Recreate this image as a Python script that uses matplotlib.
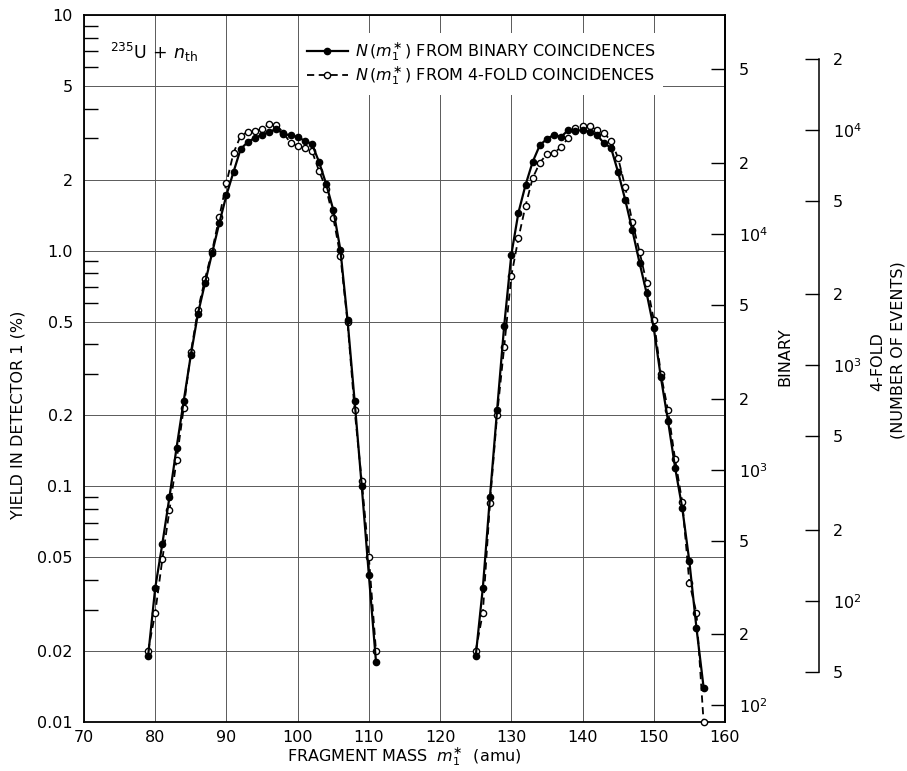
import numpy as np
import matplotlib.pyplot as plt
from matplotlib.lines import Line2D
from matplotlib.ticker import FixedLocator, NullFormatter

# fragment masses (amu) and yields in detector 1 (%)
mass_light = list(range(79, 112))
binary_light = [0.019, 0.037, 0.057, 0.090, 0.146, 0.23, 0.36, 0.54, 0.73, 0.98,
                1.31, 1.72, 2.16, 2.70, 2.89, 3.01, 3.10, 3.19, 3.28, 3.13,
                3.08, 3.04, 2.92, 2.84, 2.38, 1.92, 1.49, 1.01, 0.51, 0.23,
                0.10, 0.042, 0.018]
fourfold_light = [0.020, 0.029, 0.049, 0.079, 0.129, 0.215, 0.37, 0.56, 0.76, 1.00,
                  1.39, 1.94, 2.60, 3.07, 3.19, 3.22, 3.28, 3.45, 3.42, 3.16,
                  2.86, 2.78, 2.73, 2.65, 2.18, 1.83, 1.38, 0.95, 0.50, 0.21,
                  0.105, 0.050, 0.020]

mass_heavy = list(range(125, 158))
binary_heavy = [0.019, 0.037, 0.09, 0.21, 0.48, 0.96, 1.45, 1.90, 2.38, 2.80,
                2.98, 3.10, 3.04, 3.25, 3.22, 3.25, 3.19, 3.10, 2.86, 2.73,
                2.15, 1.64, 1.22, 0.89, 0.66, 0.47, 0.29, 0.19, 0.12, 0.081,
                0.048, 0.025, 0.014]
fourfold_heavy = [0.020, 0.029, 0.085, 0.20, 0.39, 0.78, 1.13, 1.55, 2.03, 2.36,
                  2.57, 2.60, 2.75, 3.01, 3.32, 3.38, 3.38, 3.25, 3.16, 2.92,
                  2.47, 1.86, 1.32, 0.99, 0.73, 0.51, 0.30, 0.21, 0.13, 0.086,
                  0.039, 0.029, 0.010]

yield_ticks = [0.01, 0.02, 0.05, 0.1, 0.2, 0.5, 1, 2, 5, 10]
yield_labels = ['0.01', '0.02', '0.05', '0.1', '0.2', '0.5', '1.0', '2', '5', '10']

# counts corresponding to 1 % yield on the two event scales
binary_per_pct = 8500
fourfold_per_pct = 3070
binary_ticks = [100, 200, 500, 1e3, 2e3, 5e3, 1e4, 2e4, 5e4]
binary_labels = ['$10^2$', '2', '5', '$10^3$', '2', '5', '$10^4$', '2', '5']
fourfold_ticks = [50, 100, 200, 500, 1e3, 2e3, 5e3, 1e4, 2e4]
fourfold_labels = ['5', '$10^2$', '2', '5', '$10^3$', '2', '5', '$10^4$', '2']

fs = 11.5
fig = plt.figure(figsize=(9.07, 7.71), dpi=100)
ax = fig.add_axes([0.0926, 0.0636, 0.7067, 0.917])

solid = dict(color='k', lw=1.6, ls='-', marker='o', ms=4.5, mfc='k', mec='k', zorder=4)
dashed = dict(color='k', lw=1.3, ls=(0, (4, 2.5)), marker='o', ms=4.5, mfc='white',
              mec='k', mew=1.0, zorder=3, clip_on=False)

for m, b in [(mass_light, binary_light), (mass_heavy, binary_heavy)]:
    ax.plot(m, b, **solid)
for m, f in [(mass_light, fourfold_light), (mass_heavy, fourfold_heavy)]:
    ax.plot(m, f, **dashed)

ax.set_yscale('log')
ax.set_xlim(70, 160)
ax.set_ylim(0.01, 10)
ax.set_axisbelow(True)

ax.set_xticks(range(70, 161, 10))
ax.set_yticks(yield_ticks)
ax.set_yticklabels(yield_labels)
minor = [k * 10.0 ** d for d in range(-2, 1) for k in (3, 4, 6, 7, 8, 9)]
ax.yaxis.set_minor_locator(FixedLocator(minor))
ax.yaxis.set_minor_formatter(NullFormatter())
ax.tick_params(axis='y', which='major', length=0, labelsize=fs, pad=8)
ax.tick_params(axis='x', which='major', length=0, labelsize=fs, pad=6)
ax.tick_params(axis='y', which='minor', direction='in', length=10, width=1)
ax.grid(True, which='major', color='0.35', lw=0.7)

for s in ax.spines.values():
    s.set_linewidth(1.3)

ax.set_xlabel(r'FRAGMENT MASS  $m_1^{\ast}$  (amu)', fontsize=fs, labelpad=0)
fig.text(18 / 907, 1 - 415 / 771, 'YIELD IN DETECTOR 1 (%)', rotation=90,
         ha='center', va='center', fontsize=fs)

ax.text(0.04, 0.947, r'$^{235}$U$\,+\,n_{\rm th}$', transform=ax.transAxes,
        fontsize=fs + 1, va='center', ha='left')

handles = [Line2D([], [], **{k: v for k, v in solid.items() if k != 'zorder'}),
           Line2D([], [], **{k: v for k, v in dashed.items() if k not in ('zorder', 'clip_on')})]
labels = [r'$N\,(m_1^{\ast}\,)$ FROM BINARY COINCIDENCES',
          r'$N\,(m_1^{\ast}\,)$ FROM 4-FOLD COINCIDENCES']
leg = ax.legend(handles, labels, loc='upper left', bbox_to_anchor=(0.335, 0.975),
                borderaxespad=0, frameon=True, fancybox=False, framealpha=1,
                facecolor='white', edgecolor='none', fontsize=fs,
                handlelength=2.6, handletextpad=0.4, labelspacing=0.1,
                borderpad=0.5)
leg.set_zorder(6)

# binary event scale on the frame's right edge
ax2 = ax.twinx()
ax2.set_yscale('log')
ax2.set_ylim(0.01 * binary_per_pct, 10 * binary_per_pct)
ax2.yaxis.set_major_locator(FixedLocator(binary_ticks))
ax2.set_yticklabels(binary_labels)
ax2.yaxis.set_minor_locator(FixedLocator([]))
ax2.tick_params(axis='y', direction='in', length=10, width=1, labelsize=fs, pad=10)
for s in ('left', 'top', 'bottom'):
    ax2.spines[s].set_visible(False)
ax2.spines['right'].set_linewidth(1.3)
fig.text(785 / 907, 1 - 357 / 771, 'BINARY', rotation=90, ha='center',
         va='center', fontsize=fs)

# 4-fold event scale, detached
ax3 = ax.twinx()
ax3.set_yscale('log')
ax3.set_ylim(0.01 * fourfold_per_pct, 10 * fourfold_per_pct)
ax3.yaxis.set_major_locator(FixedLocator(fourfold_ticks))
ax3.set_yticklabels(fourfold_labels)
ax3.yaxis.set_minor_locator(FixedLocator([]))
ax3.tick_params(axis='y', direction='in', length=10, width=1, labelsize=fs, pad=10)
for s in ('left', 'top', 'bottom'):
    ax3.spines[s].set_visible(False)
ax3.spines['right'].set_position(('axes', 1.1467))
ax3.spines['right'].set_bounds(50, 2e4)
ax3.spines['right'].set_linewidth(1.1)
fig.text(878 / 907, 1 - 362 / 771, '4-FOLD', rotation=90, ha='center',
         va='center', fontsize=fs)
fig.text(898 / 907, 1 - 350 / 771, '(NUMBER OF EVENTS)', rotation=90,
         ha='center', va='center', fontsize=fs)

fig.savefig('out.png', dpi=100, facecolor='white')
